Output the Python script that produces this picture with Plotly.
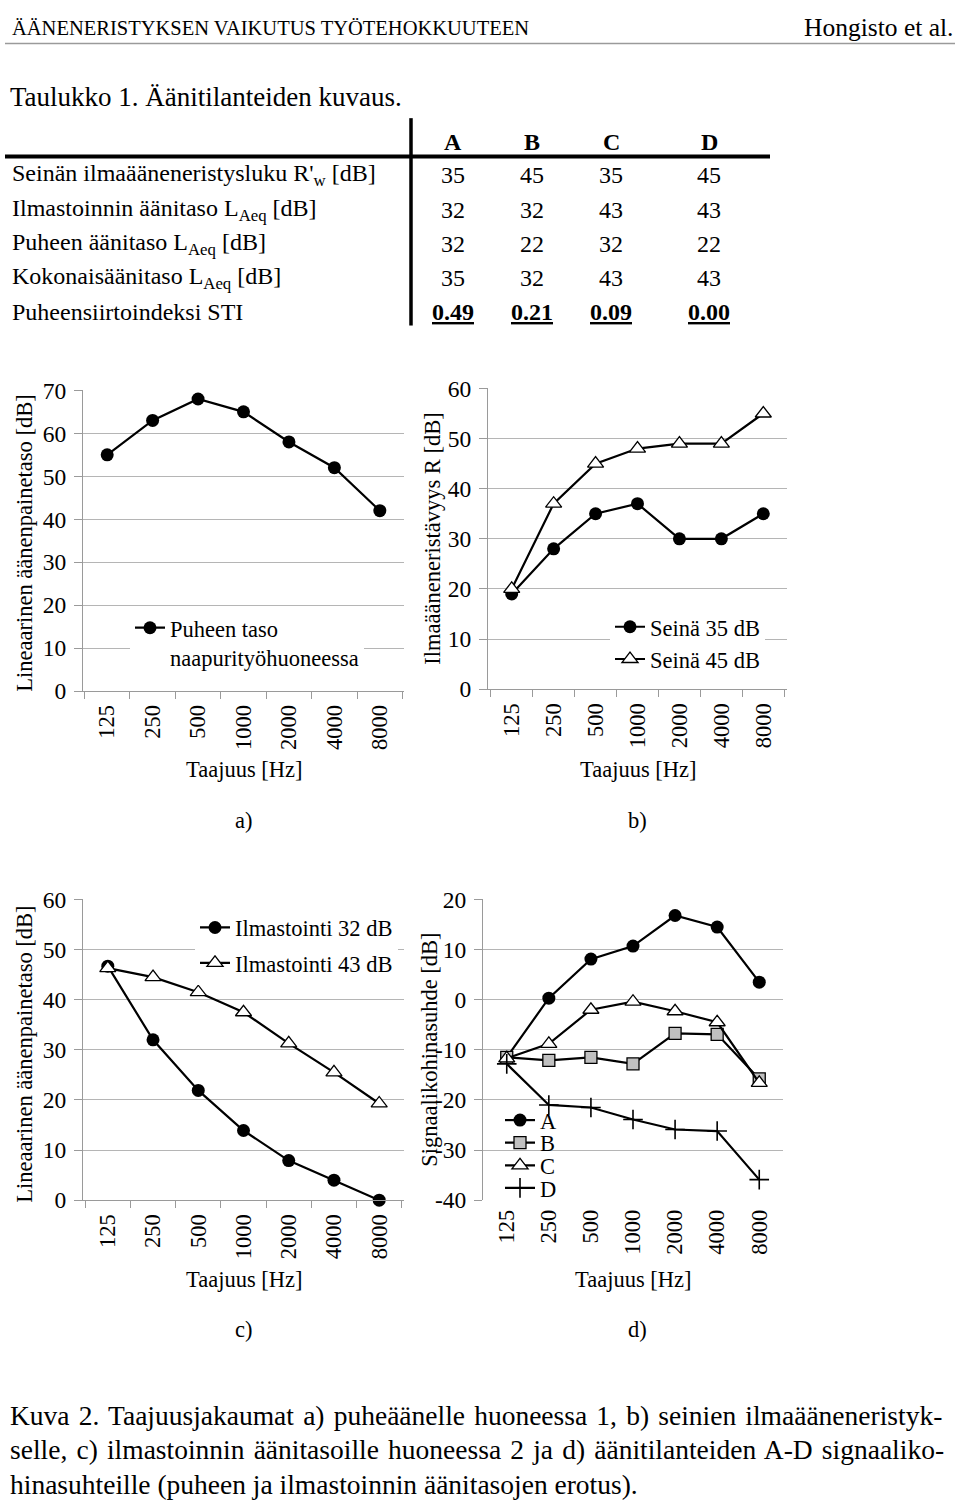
import plotly.graph_objects as go

# ---------------- data ----------------
FREQS = ["125", "250", "500", "1000", "2000", "4000", "8000"]

speech_level = [55, 63, 68, 65, 58, 52, 42]            # a)
wall_35 = [19, 28, 35, 37, 30, 30, 35]                 # b)
wall_45 = [20, 37, 45, 48, 49, 49, 55]
vent_32 = [46.7, 32.0, 21.9, 13.9, 7.9, 4.0, 0.0]      # c)
vent_43 = [46.3, 44.5, 41.5, 37.5, 31.3, 25.5, 19.3]
snr_A = [-11.5, 0.3, 8.1, 10.7, 16.8, 14.5, 3.5]       # d)
snr_B = [-11.5, -12.1, -11.5, -12.8, -6.7, -6.9, -15.8]
snr_C = [-11.7, -8.8, -2.0, -0.4, -2.3, -4.5, -16.6]
snr_D = [-12.8, -21.0, -21.5, -23.9, -25.9, -26.2, -35.9]
snr_ticks = [-40, -30, -20, -10, 0, 10, 20]
snr_tick_text = ["-40", "-30", "-20", "-10", "0", "10", "20"]

table_cols = ["A", "B", "C", "D"]
table_rows = [
    "Seinän ilmaääneneristysluku R'<sub>w</sub> [dB]",
    "Ilmastoinnin äänitaso L<sub>Aeq</sub> [dB]",
    "Puheen äänitaso L<sub>Aeq</sub> [dB]",
    "Kokonaisäänitaso L<sub>Aeq</sub> [dB]",
]
table_vals = [[35, 45, 35, 45], [32, 32, 43, 43], [32, 22, 32, 22], [35, 32, 43, 43]]
sti_label = "Puheensiirtoindeksi STI"
sti_vals = ["0.49", "0.21", "0.09", "0.00"]

caption_lines = [
    "Kuva 2. Taajuusjakaumat a) puheäänelle huoneessa 1, b) seinien ilmaääneneristyk-",
    "selle, c) ilmastoinnin äänitasoille huoneessa 2 ja d) äänitilanteiden A-D signaaliko-",
    "hinasuhteille (puheen ja ilmastoinnin äänitasojen erotus).",
]

# ---------------- helpers ----------------
W, H = 960, 1510
FONT = "Liberation Serif, Times New Roman, serif"
GRID = "#b5b5b5"
AXC = "#9a9a9a"
FS = 22.5


def px(x):
    return x / W


def py(y):
    return 1 - y / H


fig = go.Figure()


def xaxis(x0, x1, anchor, **kw):
    d = dict(domain=[px(x0), px(x1)], anchor=anchor, type="category",
             categoryorder="array", categoryarray=FREQS, tickson="boundaries",
             ticks="outside", ticklen=7, tickcolor=AXC, tickwidth=1,
             showline=True, linecolor=AXC, linewidth=1, tickangle=-90,
             tickfont=dict(family=FONT, size=FS, color="black"),
             showgrid=False, zeroline=False, ticklabelstandoff=4, fixedrange=True)
    d.update(kw)
    return d


def yaxis(y0, y1, anchor, rng, **kw):
    d = dict(domain=[py(y1), py(y0)], anchor=anchor, range=rng, tick0=0, dtick=10,
             showgrid=True, gridcolor=GRID, gridwidth=1, showline=True,
             linecolor=AXC, linewidth=1, ticks="outside", ticklen=8,
             tickcolor=AXC, tickfont=dict(family=FONT, size=23.5, color="black"),
             zeroline=False, ticklabelstandoff=3, fixedrange=True)
    d.update(kw)
    return d


LINE = dict(color="black", width=2.2)
circle = dict(symbol="circle", size=13, color="black", line=dict(width=0))
tri = dict(symbol="triangle-up", size=14, color="white", line=dict(color="black", width=1.3))
sq = dict(symbol="square", size=12, color="#c0c0c0", line=dict(color="black", width=1.3))
cross = dict(symbol="cross-thin", size=14, line=dict(color="black", width=1.6))


def add(x, y, xa, ya, name, marker, legend):
    fig.add_trace(go.Scatter(x=x, y=y, xaxis=xa, yaxis=ya, name=name, mode="lines+markers",
                             line=LINE, marker=marker, legend=legend, cliponaxis=False,
                             hoverinfo="x+y+name"))


# a)
add(FREQS, speech_level, "x", "y", "Puheen taso<br>naapurityöhuoneessa", circle, "legend")
# b)
add(FREQS, wall_35, "x2", "y2", "Seinä 35 dB", circle, "legend2")
add(FREQS, wall_45, "x2", "y2", "Seinä 45 dB", tri, "legend2")
# c)
add(FREQS, vent_32, "x3", "y3", "Ilmastointi 32 dB", circle, "legend3")
add(FREQS, vent_43, "x3", "y3", "Ilmastointi 43 dB", tri, "legend4")
# d)
add(FREQS, snr_A, "x4", "y4", "A", circle, "legend5")
add(FREQS, snr_B, "x4", "y4", "B", sq, "legend6")
add(FREQS, snr_C, "x4", "y4", "C", tri, "legend7")
add(FREQS, snr_D, "x4", "y4", "D", cross, "legend8")

# plot area geometry (pixels)
A_X, A_Y = (83, 404), (384, 690)
B_X, B_Y = (488, 787), (382, 688)
C_X, C_Y = (83, 404), (902, 1208)
D_X, D_Y = (483, 783), (902, 1208)

d_lo, d_hi = snr_ticks[0], snr_ticks[-1]
zero_pos = py(D_Y[1]) + (0 - d_lo) / (d_hi - d_lo) * (py(D_Y[0]) - py(D_Y[1]))

layout_axes = dict(
    xaxis=xaxis(*A_X, "y"), yaxis=yaxis(*A_Y, "x", [0, 70]),
    xaxis2=xaxis(*B_X, "y2"), yaxis2=yaxis(*B_Y, "x2", [0, 60]),
    xaxis3=xaxis(*C_X, "y3"), yaxis3=yaxis(*C_Y, "x3", [0, 60]),
    xaxis4=xaxis(*D_X, "y4", showline=False, ticks=""),
    yaxis4=yaxis(*D_Y, "x4", [d_lo, d_hi], tickmode="array",
                 tickvals=snr_ticks, ticktext=snr_tick_text),
    xaxis5=dict(domain=[px(D_X[0]), px(D_X[1])], overlaying="x4", anchor="free",
                position=zero_pos, type="linear", range=[-0.5, 6.5], tick0=-0.5, dtick=1,
                ticks="outside", ticklen=7, tickcolor=AXC, showline=True, linecolor=AXC,
                showticklabels=False, showgrid=False, zeroline=False, fixedrange=True),
)


def legend(xtext, ycenter, valign="middle", bg="white"):
    return dict(x=px(xtext - 40), y=py(ycenter - 22), xanchor="left", yanchor="top",
                bgcolor=bg, borderwidth=0, valign=valign,
                font=dict(family=FONT, size=FS, color="black"), tracegroupgap=0)


CLEAR = "rgba(0,0,0,0)"
legends = dict(
    legend=legend(170, 626, "top"),
    legend2=legend(650, 625),
    legend3=legend(235, 931),
    legend4=legend(235, 967),
    legend5=legend(540, 1127, bg=CLEAR),
    legend6=legend(540, 1150, bg=CLEAR),
    legend7=legend(540, 1173, bg=CLEAR),
    legend8=legend(540, 1196, bg=CLEAR),
)

ann = []


def text(x, y, s, size, xanchor="left", yanchor="middle", angle=0):
    ann.append(dict(x=px(x), y=py(y), xref="paper", yref="paper", text=s, showarrow=False,
                    xanchor=xanchor, yanchor=yanchor, textangle=angle,
                    font=dict(family=FONT, size=size, color="black")))


# header
text(10, 15, "ÄÄNENERISTYKSEN VAIKUTUS TYÖTEHOKKUUTEEN", 20.5)
text(955, 15, "Hongisto et al.", 25.5, xanchor="right")
text(8, 85, "Taulukko 1. Äänitilanteiden kuvaus.", 27)

# table
col_x = [453, 532, 611, 709]
row_y = [165, 200, 235, 270]
TS = 24
for cx, c in zip(col_x, table_cols):
    text(cx, 131, "<b>" + c + "</b>", TS, xanchor="center")
for ry, lab, vals in zip(row_y, table_rows, table_vals):
    text(10, ry, lab, TS)
    for cx, v in zip(col_x, vals):
        text(cx, ry, str(v), TS, xanchor="center")
text(10, 304, sti_label, TS)
for cx, v in zip(col_x, sti_vals):
    text(cx, 304, "<b><u>" + v + "</u></b>", TS, xanchor="center")

# axis titles and sub-labels
text(25, 540, "Lineaarinen äänenpainetaso [dB]", FS, "center", "middle", -90)
text(433, 535, "Ilmaääneneristävyys R [dB]", FS, "center", "middle", -90)
text(25, 1060, "Lineaarinen äänenpainetaso [dB]", FS, "center", "middle", -90)
text(430, 1055, "Signaalikohinasuhde [dB]", FS, "center", "middle", -90)
for cx, cy in [(244, 770), (638, 770), (244, 1289), (633, 1289)]:
    text(cx, cy, "Taajuus [Hz]", FS, "center")
for cx, cy, s in [(243, 822, "a)"), (637, 822, "b)"), (243, 1340, "c)"), (637, 1340, "d)")]:
    text(cx, cy, s, FS, "center")

# caption (first two lines justified via word spacing)
for i, line in enumerate(caption_lines):
    s = line if i == 2 else '<span style="word-spacing:2.3px">' + line + "</span>"
    text(8, 1427 + 35 * i, s, 27.5)

shapes = [
    dict(type="line", xref="paper", yref="paper", x0=px(5), x1=px(955), y0=py(31), y1=py(31),
         line=dict(color="#9a9a9a", width=1.5)),
    dict(type="line", xref="paper", yref="paper", x0=px(5), x1=px(770), y0=py(146), y1=py(146),
         line=dict(color="black", width=4)),
    dict(type="line", xref="paper", yref="paper", x0=px(411), x1=px(411), y0=py(107), y1=py(318),
         line=dict(color="black", width=3.5)),
    # white patch behind legend d (hides gridline under legend, under the data)
    dict(type="rect", xref="paper", yref="paper", x0=px(492), x1=px(566), y0=py(1165), y1=py(1150),
         line=dict(width=0), fillcolor="white", layer="between"),
]

fig.update_layout(width=W, height=H, margin=dict(l=0, r=0, t=0, b=0),
                  paper_bgcolor="white", plot_bgcolor="white",
                  annotations=ann, shapes=shapes, showlegend=True,
                  font=dict(family=FONT, color="black"),
                  **layout_axes, **legends)

fig.write_html("out.html")
